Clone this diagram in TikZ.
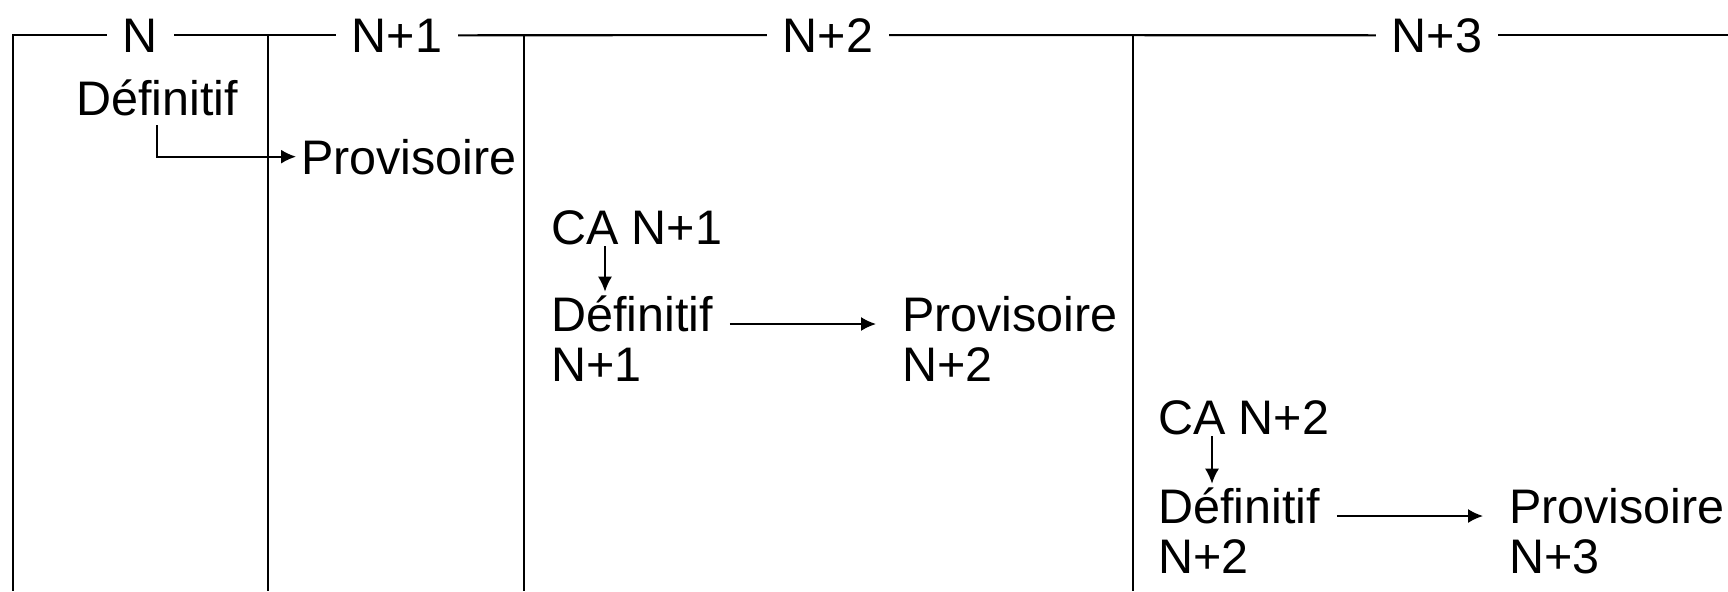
\documentclass[tikz,border=0pt]{standalone}
\usepackage{fontspec}
\setmainfont{Liberation Sans}
\usetikzlibrary{arrows.meta}

\begin{document}
\begin{tikzpicture}[x=0.1mm,y=-0.1mm,line width=0.6pt,
  txt/.style={inner sep=0pt,anchor=base west,align=left,font=\fontsize{13.8}{14.1}\selectfont},
  yr/.style={inner xsep=1.5mm,inner ysep=0pt,anchor=base,font=\fontsize{13.8}{14.1}\selectfont},
  arr/.style={-{Latex[length=1.5mm,width=1.4mm]},line width=0.5pt}]
\useasboundingbox (0,0) rectangle (1728,591);

% years along the top
\node[yr] (y0) at (140.5,52) {N};
\node[yr] (y1) at (397,52) {N+1};
\node[yr] (y2) at (828,52) {N+2};
\node[yr] (y3) at (1437,52) {N+3};
\draw (y0.west) -| (12.6,591);
\draw (y0.east) -- (y1.west);
\draw (y1.east) -- (y2.west);
\draw (y2.east) -- (y3.west);
\draw (y3.east) -- ++(400,0);

% column separators
\foreach \x in {268,524,1133}
  \draw (\x,35) -- (\x,591);

% texts (two-line nodes sit on the baseline of their last line)
\node[txt] (d0) at (75,115) {Définitif};
\node[txt] (p1) at (300,174) {Provisoire};
\node[txt] (ca1) at (550,244) {CA N+1};
\node[txt] (d1) at (550,381) {Définitif\\N+1};
\node[txt] (p2) at (901,381) {Provisoire\\N+2};
\node[txt] (ca2) at (1157,434) {CA N+2};
\node[txt] (d2) at (1157,573) {Définitif\\N+2};
\node[txt] (p3) at (1508,573) {Provisoire\\N+3};

% arrows
\draw[arr,shorten >=0.4mm] ([shift={(82,10)}]d0.base west) |- (p1.west);

\coordinate (c1) at ([shift={(55,2)}]ca1.base west);
\coordinate (c2) at ([shift={(55,2)}]ca2.base west);
\draw[arr,shorten >=0.3mm] (c1) -- (c1 |- d1.north);
\draw[arr,shorten >=0.3mm] (c2) -- (c2 |- d2.north);

\draw[arr] ([shift={(16,-57)}]d1.base east) -- ([shift={(-25,-57)}]p2.base west);
\draw[arr] ([shift={(16,-57)}]d2.base east) -- ([shift={(-25,-57)}]p3.base west);
\end{tikzpicture}
\end{document}
